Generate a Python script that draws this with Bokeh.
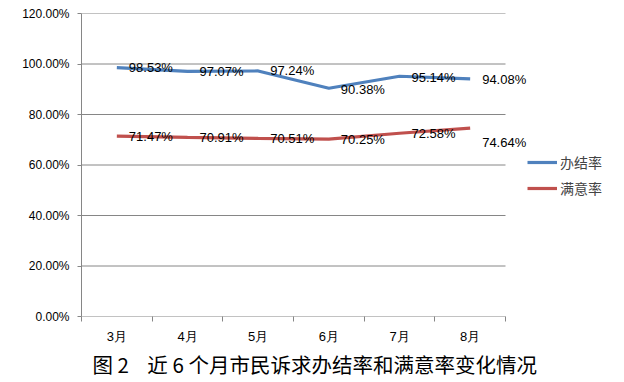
import numpy as np
from bokeh.plotting import figure
from bokeh.core.properties import value
from bokeh.models import (ColumnDataSource, LabelSet, Legend, LegendItem, FixedTicker,
                          PrintfTickFormatter, Range1d, Title)
from bokeh.embed import file_html
from bokeh.resources import INLINE

months = ["3月", "4月", "5月", "6月", "7月", "8月"]
banjie = [98.53, 97.07, 97.24, 90.38, 95.14, 94.08]
manyi = [71.47, 70.91, 70.51, 70.25, 72.58, 74.64]
y_ticks = [0, 20, 40, 60, 80, 100, 120]
caption = "图\u00a02\u00a0\u00a0\u00a0\u00a0近\u00a06\u00a0个月市民诉求办结率和满意率变化情况"

# label vertical nudges (style only)
banjie_dy = [0, 0, 0, -1, -1, -1]
manyi_dy = [0, 0, 0, 0, 0, -14]

BLUE = "#4F81BD"
RED = "#C0504D"
GRID = "#868686"
FONT = "Liberation Sans"

n = len(months)
xs = np.arange(n) + 0.5
PLOT_W = 424          # px width of the category area
FRAME_W = 624 - 81    # frame extends to the right edge so labels/legend are not clipped
x_end = n * FRAME_W / PLOT_W

p = figure(width=624, height=382, output_backend="svg", toolbar_location=None,
           x_range=Range1d(0, x_end), y_range=Range1d(0, 120),
           min_border_left=81, min_border_right=0, min_border_top=13, min_border_bottom=66)
p.outline_line_color = None
p.background_fill_color = "white"
p.border_fill_color = "white"

# gridlines & x axis line limited to category area
p.segment(x0=[0] * len(y_ticks), x1=[n] * len(y_ticks), y0=y_ticks, y1=y_ticks,
          line_color=GRID, line_width=1)

src_b = ColumnDataSource(dict(x=xs, y=banjie, t=[f"{v:.2f}%" for v in banjie], dy=banjie_dy))
src_m = ColumnDataSource(dict(x=xs, y=manyi, t=[f"{v:.2f}%" for v in manyi], dy=manyi_dy))

rb = p.line("x", "y", source=src_b, line_color=BLUE, line_width=3.2)
rm = p.line("x", "y", source=src_m, line_color=RED, line_width=3.2)

for src in (src_b, src_m):
    p.add_layout(LabelSet(x="x", y="y", text="t", source=src, x_offset=12, y_offset="dy",
                          text_baseline="middle", text_align="left",
                          text_font=value(FONT), text_font_size="13px", text_color="#000000"))

# x axis
xa = p.xaxis[0]
xa.ticker = FixedTicker(ticks=list(xs), minor_ticks=list(range(n + 1)))
xa.major_label_overrides = {float(x): m for x, m in zip(xs, months)}
xa.major_tick_line_color = None
xa.minor_tick_in = 0
xa.minor_tick_out = 5
xa.minor_tick_line_color = GRID
xa.axis_line_color = None
xa.major_label_text_font = FONT
xa.major_label_text_font_size = "13px"
xa.major_label_text_color = "#000000"
xa.major_label_standoff = 6

# y axis
ya = p.yaxis[0]
ya.ticker = FixedTicker(ticks=y_ticks)
ya.formatter = PrintfTickFormatter(format="%.2f%%")
ya.major_tick_in = 0
ya.major_tick_out = 4
ya.major_tick_line_color = GRID
ya.minor_tick_line_color = None
ya.axis_line_color = GRID
ya.major_label_text_font = FONT
ya.major_label_text_font_size = "12px"
ya.major_label_text_color = "#000000"
ya.major_label_standoff = 8

p.xgrid.grid_line_color = None
p.ygrid.grid_line_color = None

legend = Legend(items=[LegendItem(label="办结率", renderers=[rb]),
                       LegendItem(label="满意率", renderers=[rm])],
                location=(446, 118), orientation="vertical",
                label_text_font="Noto Sans CJK SC", label_text_font_size="14px",
                glyph_width=30, glyph_height=16, label_height=16, label_standoff=3, spacing=6,
                padding=0, margin=0, border_line_color=None, background_fill_alpha=0)
p.add_layout(legend, "center")

p.add_layout(Title(text=caption, align="left", offset=11, text_font="Noto Sans CJK SC",
                   text_font_size="20.5px", text_font_style="normal", text_color="#000000",
                   standoff=0), "below")

open("out.html", "w").write(file_html(p, INLINE))
